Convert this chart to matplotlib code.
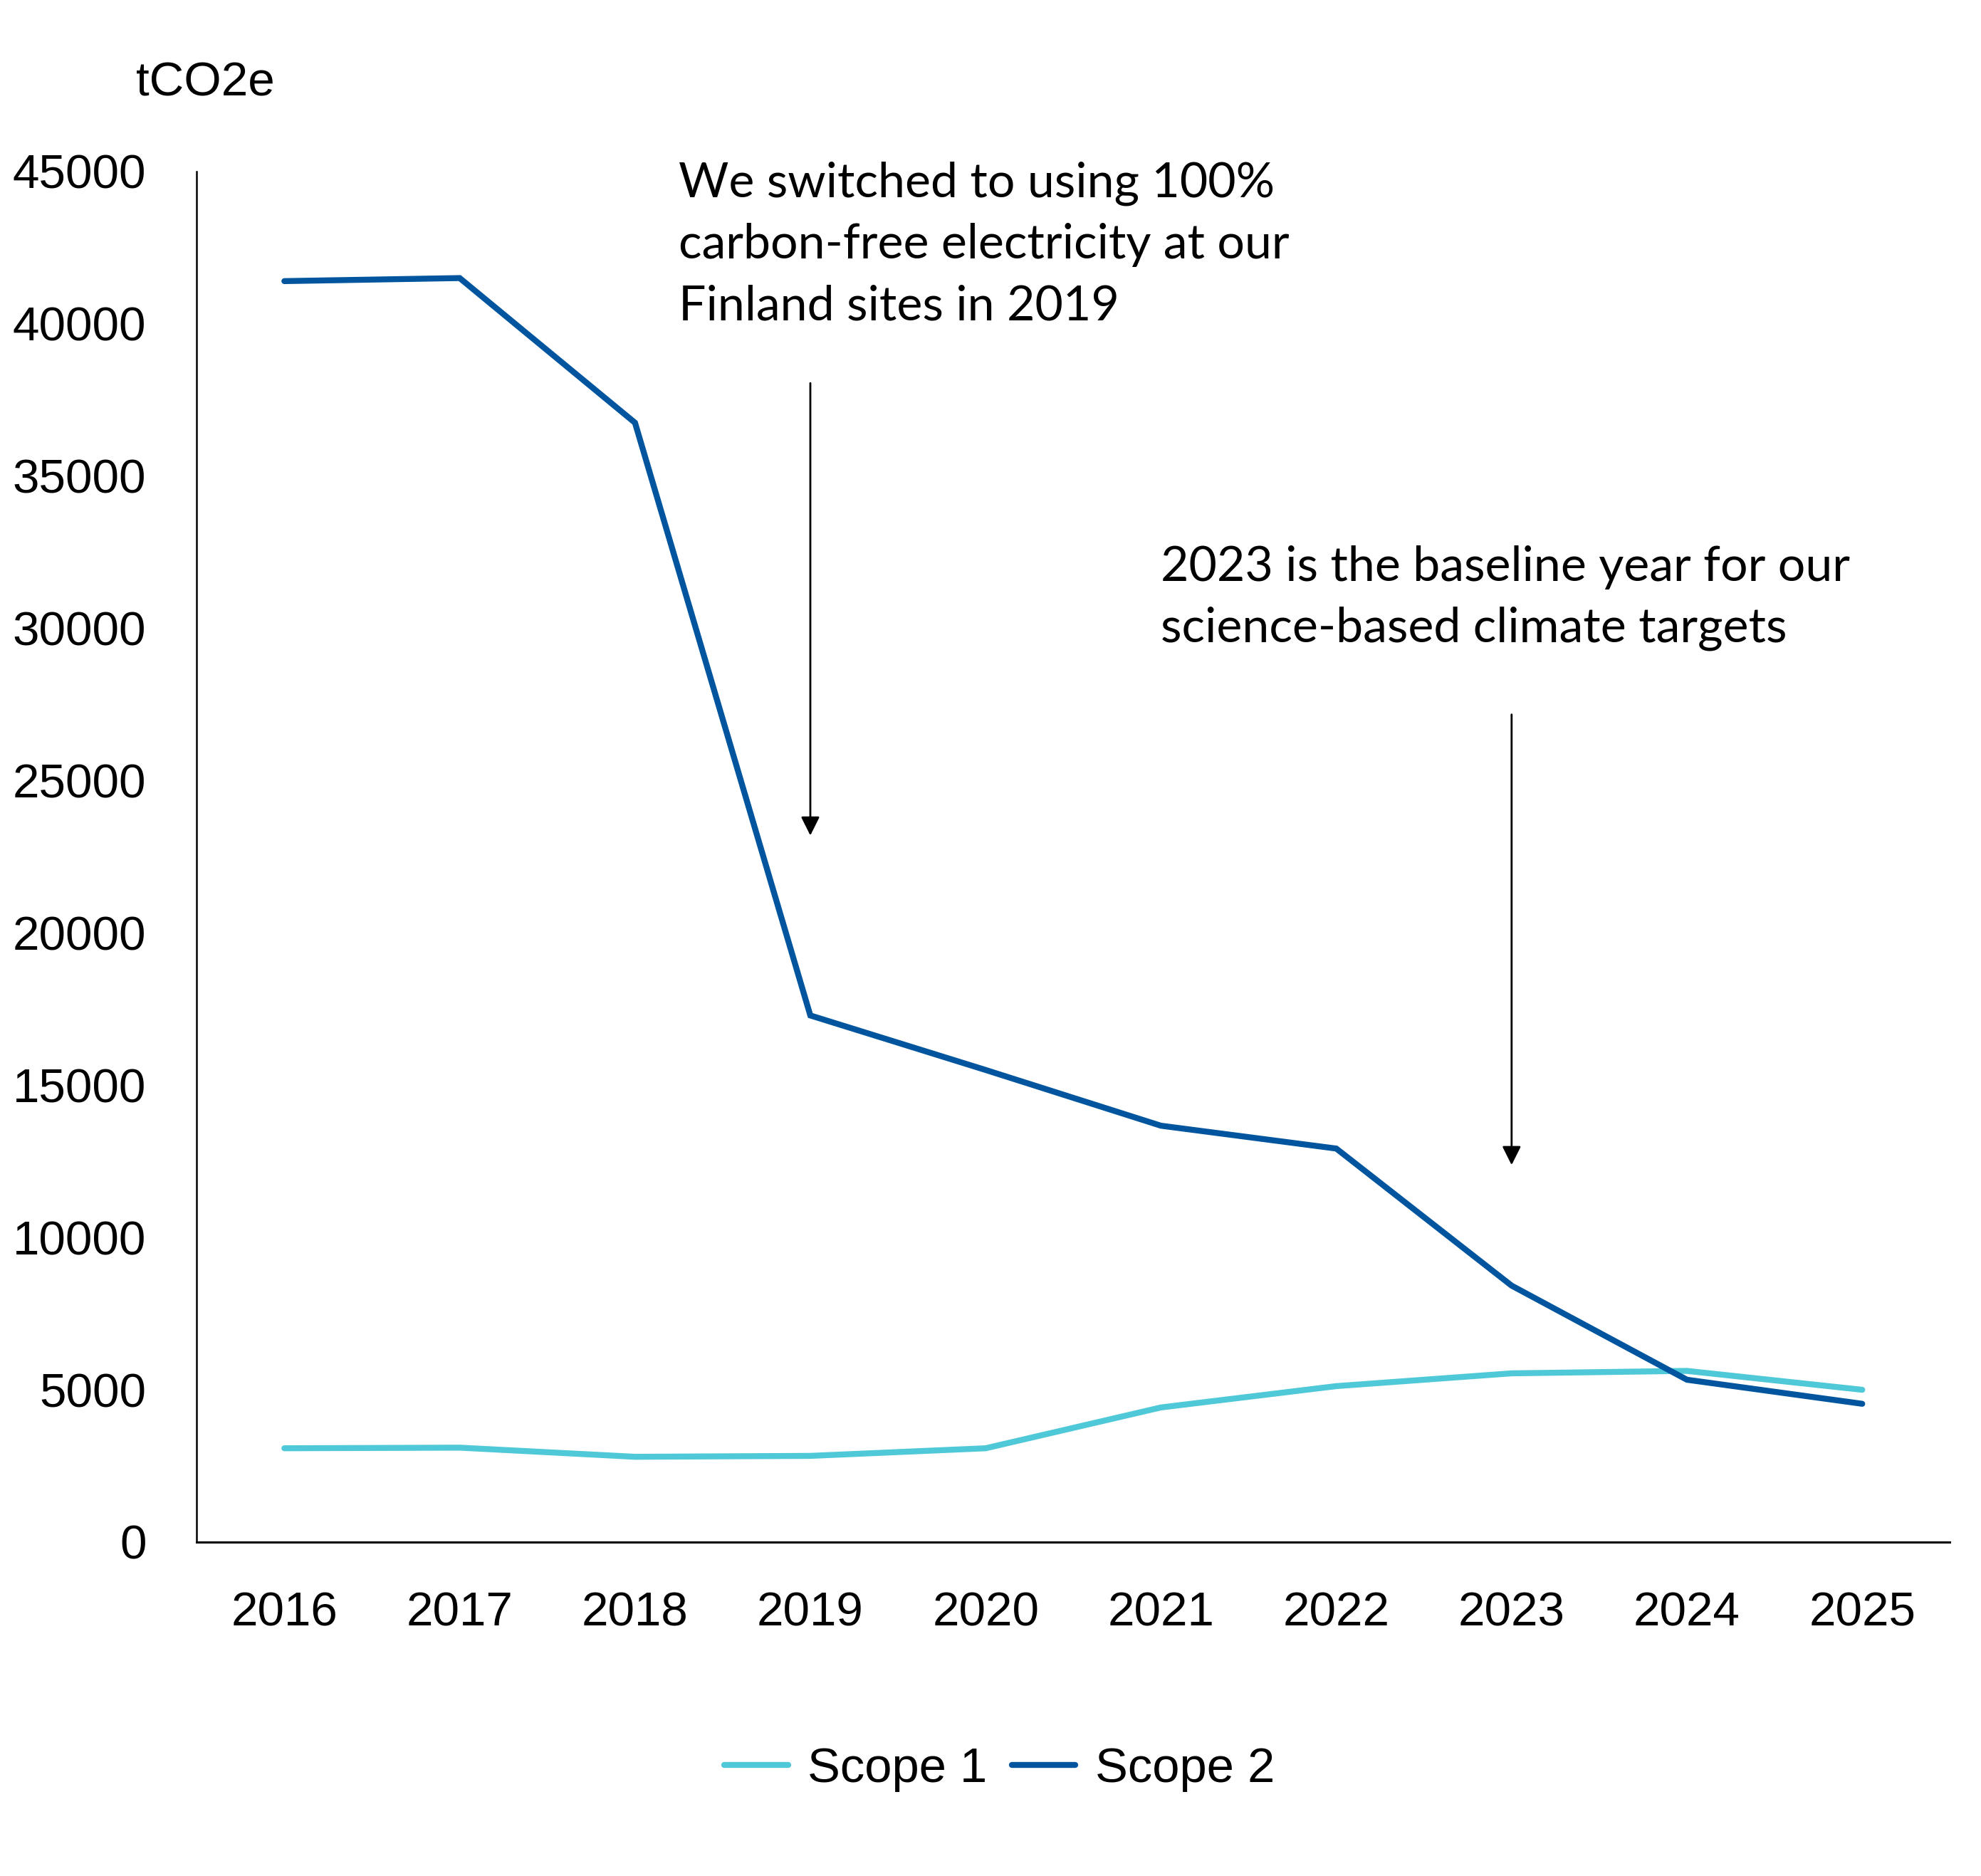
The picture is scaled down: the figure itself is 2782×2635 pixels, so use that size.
import numpy as np
import matplotlib
matplotlib.use('Agg')
import matplotlib.pyplot as plt

# Data
years = ['2016', '2017', '2018', '2019', '2020', '2021', '2022', '2023', '2024', '2025']
scope_1 = [3080, 3100, 2800, 2830, 3080, 4420, 5120, 5540, 5620, 5000]
scope_2 = [41400, 41500, 36750, 17290, 15500, 13670, 12920, 8420, 5330, 4540]
y_ticks = list(range(0, 45001, 5000))

note_1 = 'We switched to using 100%\ncarbon-free electricity at our\nFinland sites in 2019'
note_2 = '2023 is the baseline year for our\nscience-based climate targets'

color_1 = '#4FC8D8'
color_2 = '#00559E'

plt.rcParams['font.family'] = ['Liberation Sans', 'DejaVu Sans']

fig = plt.figure(figsize=(27.82, 26.35), dpi=100)
ax = fig.add_axes([0.0993, 0.178, 0.885, 0.7306])

x = np.arange(len(years))
ax.plot(x, scope_1, color=color_1, linewidth=6, solid_capstyle='round',
        solid_joinstyle='miter', label='Scope 1')
ax.plot(x, scope_2, color=color_2, linewidth=6, solid_capstyle='round',
        solid_joinstyle='miter', label='Scope 2')

ax.set_xlim(-0.5, len(years) - 0.5)
ax.set_ylim(0, 45000)
ax.set_xticks(x)
ax.set_xticklabels(years)
ax.set_yticks(y_ticks)
ax.set_yticklabels([str(v) for v in y_ticks])
ax.tick_params(axis='both', length=0, labelsize=48.5, colors='black')
ax.tick_params(axis='x', pad=50)
ax.tick_params(axis='y', pad=51)

for side in ['top', 'right']:
    ax.spines[side].set_visible(False)
ax.spines['left'].set_linewidth(1.8)
ax.spines['bottom'].set_linewidth(2.2)

# unit label above the axis
ax.text(0.005, 1.064, 'tCO2e', transform=ax.transAxes, fontsize=48.5,
        ha='center', va='center')

# annotations
note_font = ['Lato', 'DejaVu Sans']
ax.text(2.25, 45330, note_1, fontsize=49, family=note_font, ha='left', va='top',
        linespacing=1.48, clip_on=False)
ax.text(5.0, 32730, note_2, fontsize=49, family=note_font, ha='left', va='top',
        linespacing=1.48, clip_on=False)

arrow_style = dict(arrowstyle='-|>', color='black', lw=2, mutation_scale=40,
                   shrinkA=0, shrinkB=0)
ax.annotate('', xy=(3, 23200), xytext=(3, 38050), arrowprops=arrow_style)
ax.annotate('', xy=(7, 12380), xytext=(7, 27170), arrowprops=arrow_style)

leg = fig.legend(loc='center', bbox_to_anchor=(0.5045, 0.057), ncol=2, frameon=False,
                 fontsize=49.5, handlelength=1.3, handletextpad=0.4, columnspacing=0.5)
for line in leg.get_lines():
    line.set_linewidth(6)
    line.set_solid_capstyle('round')

fig.savefig('out.png', dpi=100, facecolor='white')
